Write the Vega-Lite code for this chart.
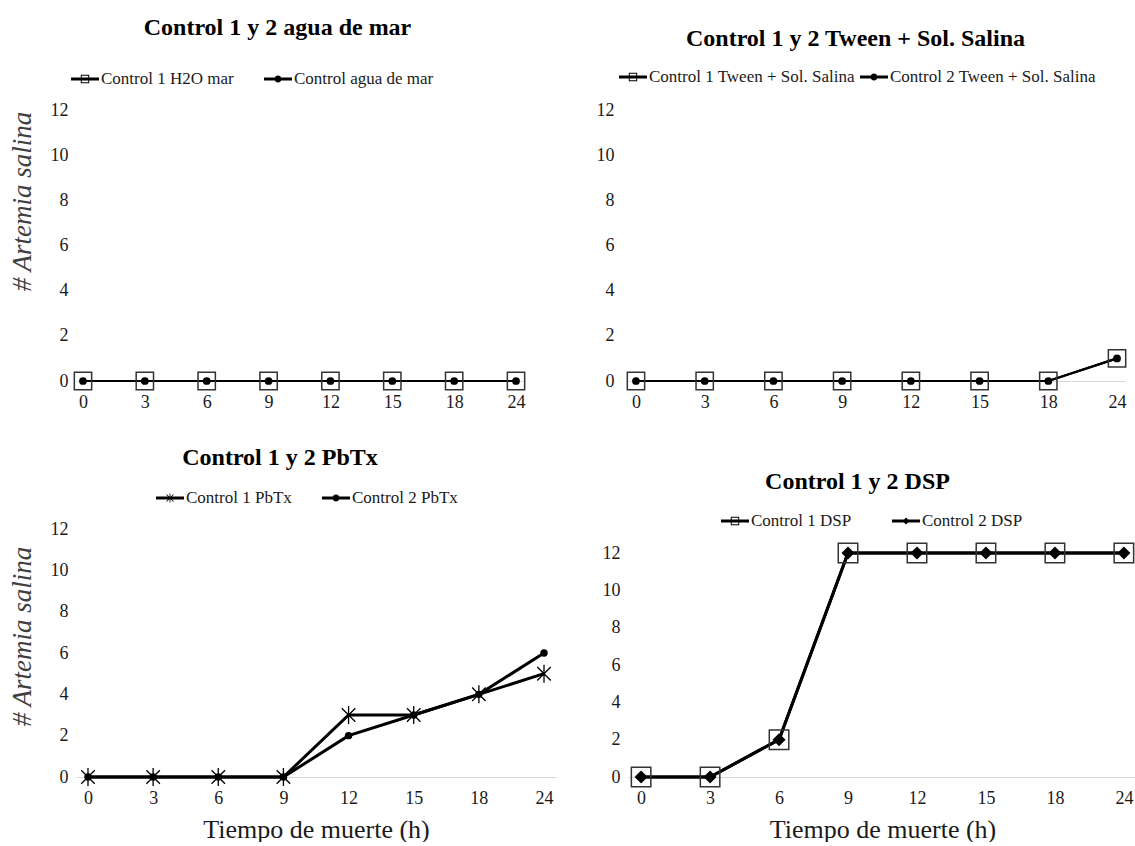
{
  "$schema": "https://vega.github.io/schema/vega-lite/v6.json",
  "background": "white",
  "padding": {"left": 8, "top": 16, "right": 0, "bottom": 0},
  "config": {
    "font": "Liberation Serif",
    "view": {"stroke": null},
    "title": {"fontSize": 24, "fontWeight": "bold", "color": "#000000", "font": "Liberation Serif", "anchor": "middle"},
    "axisX": {"labelAngle": 0, "ticks": false, "domainColor": "#d9d9d9", "domainWidth": 1.2, "grid": false, "labelFontSize": 18, "labelColor": "#1a1a1a", "labelPadding": 12, "titleFontSize": 26, "titleFontWeight": "normal", "titleColor": "#1a1a1a", "titlePadding": 9, "labelFont": "Liberation Serif", "titleFont": "Liberation Serif"},
    "axisY": {"domain": false, "ticks": false, "grid": false, "labelFontSize": 18, "labelColor": "#1a1a1a", "labelPadding": 8, "titleFontSize": 27, "titleFontStyle": "italic", "titleFontWeight": "normal", "titleColor": "#404040", "titlePadding": 14, "labelFont": "Liberation Serif", "titleFont": "Liberation Serif"},
    "legend": {"labelFont": "Liberation Serif", "labelFontSize": 17, "labelColor": "#1a1a1a", "labelLimit": 0}
  },
  "datasets": {
    "agua": [
      {"serie": "Control 1 H2O mar", "t": 0, "n": 0},
      {"serie": "Control 1 H2O mar", "t": 3, "n": 0},
      {"serie": "Control 1 H2O mar", "t": 6, "n": 0},
      {"serie": "Control 1 H2O mar", "t": 9, "n": 0},
      {"serie": "Control 1 H2O mar", "t": 12, "n": 0},
      {"serie": "Control 1 H2O mar", "t": 15, "n": 0},
      {"serie": "Control 1 H2O mar", "t": 18, "n": 0},
      {"serie": "Control 1 H2O mar", "t": 24, "n": 0},
      {"serie": "Control agua de mar", "t": 0, "n": 0},
      {"serie": "Control agua de mar", "t": 3, "n": 0},
      {"serie": "Control agua de mar", "t": 6, "n": 0},
      {"serie": "Control agua de mar", "t": 9, "n": 0},
      {"serie": "Control agua de mar", "t": 12, "n": 0},
      {"serie": "Control agua de mar", "t": 15, "n": 0},
      {"serie": "Control agua de mar", "t": 18, "n": 0},
      {"serie": "Control agua de mar", "t": 24, "n": 0}
    ],
    "tween": [
      {"serie": "Control 1 Tween + Sol. Salina", "t": 0, "n": 0},
      {"serie": "Control 1 Tween + Sol. Salina", "t": 3, "n": 0},
      {"serie": "Control 1 Tween + Sol. Salina", "t": 6, "n": 0},
      {"serie": "Control 1 Tween + Sol. Salina", "t": 9, "n": 0},
      {"serie": "Control 1 Tween + Sol. Salina", "t": 12, "n": 0},
      {"serie": "Control 1 Tween + Sol. Salina", "t": 15, "n": 0},
      {"serie": "Control 1 Tween + Sol. Salina", "t": 18, "n": 0},
      {"serie": "Control 1 Tween + Sol. Salina", "t": 24, "n": 1},
      {"serie": "Control 2 Tween + Sol. Salina", "t": 0, "n": 0},
      {"serie": "Control 2 Tween + Sol. Salina", "t": 3, "n": 0},
      {"serie": "Control 2 Tween + Sol. Salina", "t": 6, "n": 0},
      {"serie": "Control 2 Tween + Sol. Salina", "t": 9, "n": 0},
      {"serie": "Control 2 Tween + Sol. Salina", "t": 12, "n": 0},
      {"serie": "Control 2 Tween + Sol. Salina", "t": 15, "n": 0},
      {"serie": "Control 2 Tween + Sol. Salina", "t": 18, "n": 0},
      {"serie": "Control 2 Tween + Sol. Salina", "t": 24, "n": 1}
    ],
    "pbtx": [
      {"serie": "Control 1 PbTx", "t": 0, "n": 0},
      {"serie": "Control 1 PbTx", "t": 3, "n": 0},
      {"serie": "Control 1 PbTx", "t": 6, "n": 0},
      {"serie": "Control 1 PbTx", "t": 9, "n": 0},
      {"serie": "Control 1 PbTx", "t": 12, "n": 3},
      {"serie": "Control 1 PbTx", "t": 15, "n": 3},
      {"serie": "Control 1 PbTx", "t": 18, "n": 4},
      {"serie": "Control 1 PbTx", "t": 24, "n": 5},
      {"serie": "Control 2 PbTx", "t": 0, "n": 0},
      {"serie": "Control 2 PbTx", "t": 3, "n": 0},
      {"serie": "Control 2 PbTx", "t": 6, "n": 0},
      {"serie": "Control 2 PbTx", "t": 9, "n": 0},
      {"serie": "Control 2 PbTx", "t": 12, "n": 2},
      {"serie": "Control 2 PbTx", "t": 15, "n": 3},
      {"serie": "Control 2 PbTx", "t": 18, "n": 4},
      {"serie": "Control 2 PbTx", "t": 24, "n": 6}
    ],
    "dsp": [
      {"serie": "Control 1 DSP", "t": 0, "n": 0},
      {"serie": "Control 1 DSP", "t": 3, "n": 0},
      {"serie": "Control 1 DSP", "t": 6, "n": 2},
      {"serie": "Control 1 DSP", "t": 9, "n": 12},
      {"serie": "Control 1 DSP", "t": 12, "n": 12},
      {"serie": "Control 1 DSP", "t": 15, "n": 12},
      {"serie": "Control 1 DSP", "t": 18, "n": 12},
      {"serie": "Control 1 DSP", "t": 24, "n": 12},
      {"serie": "Control 2 DSP", "t": 0, "n": 0},
      {"serie": "Control 2 DSP", "t": 3, "n": 0},
      {"serie": "Control 2 DSP", "t": 6, "n": 2},
      {"serie": "Control 2 DSP", "t": 9, "n": 12},
      {"serie": "Control 2 DSP", "t": 12, "n": 12},
      {"serie": "Control 2 DSP", "t": 15, "n": 12},
      {"serie": "Control 2 DSP", "t": 18, "n": 12},
      {"serie": "Control 2 DSP", "t": 24, "n": 12}
    ]
  },
  "columns": 2,
  "bounds": "flush",
  "spacing": {"column": 72, "row": 148},
  "resolve": {"scale": {"shape": "independent"}, "legend": {"shape": "independent"}},
  "concat": [
    {
      "width": 447, "height": 271,
      "title": {"text": "Control 1 y 2 agua de mar", "offset": 25, "dx": -22},
      "data": {"name": "agua"},
      "encoding": {
        "x": {"field": "t", "type": "ordinal", "scale": {"type": "point", "padding": 0.113}, "axis": {"title": null}},
        "y": {"field": "n", "type": "quantitative", "scale": {"domain": [0, 12], "nice": false}, "axis": {"title": "# Artemia salina", "titleY": 91, "values": [0, 2, 4, 6, 8, 10, 12]}}
      },
      "layer": [
        {"mark": {"type": "line", "color": "black", "strokeWidth": 2.2}, "encoding": {"detail": {"field": "serie"}}},
        {"transform": [{"filter": "datum.serie === 'Control 1 H2O mar'"}], "mark": {"type": "point", "shape": "square", "size": 300, "filled": false, "stroke": "#333333", "strokeWidth": 1.5, "opacity": 1}},
        {"transform": [{"filter": "datum.serie === 'Control agua de mar'"}], "mark": {"type": "point", "shape": "circle", "size": 60, "filled": true, "color": "black", "opacity": 1}},
        {
          "transform": [{"filter": "false"}],
          "mark": {"type": "point", "filled": true, "color": "black", "strokeWidth": 0, "opacity": 1},
          "encoding": {
            "shape": {"field": "serie", "type": "nominal", "scale": {"domain": ["Control 1 H2O mar", "Control agua de mar"], "range": ["M-1,-0.1L1,-0.1L1,0.1L-1,0.1Z M-0.3,-0.3L0.3,-0.3L0.3,0.3L-0.3,0.3Z M-0.23,-0.23L-0.23,0.23L0.23,0.23L0.23,-0.23Z", "M-1,-0.1L1,-0.1L1,0.1L-1,0.1Z M-0.25,0A0.25,0.25 0 1 1 0.25,0A0.25,0.25 0 1 1 -0.25,0Z"]},
              "legend": {"title": null, "orient": "none", "legendX": -5, "legendY": -45, "direction": "horizontal", "symbolSize": 784, "columnPadding": 30, "labelOffset": 2, "symbolStrokeWidth": 0, "symbolFillColor": "black", "symbolOpacity": 1}}
          }
        }
      ]
    },
    {
      "width": 497, "height": 271,
      "title": {"text": "Control 1 y 2 Tween + Sol. Salina", "offset": 12, "dx": -21},
      "data": {"name": "tween"},
      "encoding": {
        "x": {"field": "t", "type": "ordinal", "scale": {"type": "point", "padding": 0.116}, "axis": {"title": null}},
        "y": {"field": "n", "type": "quantitative", "scale": {"domain": [0, 12], "nice": false}, "axis": {"title": null, "labelPadding": 14, "values": [0, 2, 4, 6, 8, 10, 12]}}
      },
      "layer": [
        {"mark": {"type": "line", "color": "black", "strokeWidth": 2.2}, "encoding": {"detail": {"field": "serie"}}},
        {"transform": [{"filter": "datum.serie === 'Control 1 Tween + Sol. Salina'"}], "mark": {"type": "point", "shape": "square", "size": 300, "filled": false, "stroke": "#333333", "strokeWidth": 1.5, "opacity": 1}},
        {"transform": [{"filter": "datum.serie === 'Control 2 Tween + Sol. Salina'"}], "mark": {"type": "point", "shape": "circle", "size": 60, "filled": true, "color": "black", "opacity": 1}},
        {
          "transform": [{"filter": "false"}],
          "mark": {"type": "point", "filled": true, "color": "black", "strokeWidth": 0, "opacity": 1},
          "encoding": {
            "shape": {"field": "serie", "type": "nominal", "scale": {"domain": ["Control 1 Tween + Sol. Salina", "Control 2 Tween + Sol. Salina"], "range": ["M-1,-0.1L1,-0.1L1,0.1L-1,0.1Z M-0.3,-0.3L0.3,-0.3L0.3,0.3L-0.3,0.3Z M-0.23,-0.23L-0.23,0.23L0.23,0.23L0.23,-0.23Z", "M-1,-0.1L1,-0.1L1,0.1L-1,0.1Z M-0.25,0A0.25,0.25 0 1 1 0.25,0A0.25,0.25 0 1 1 -0.25,0Z"]},
              "legend": {"title": null, "orient": "none", "legendX": -9, "legendY": -47, "direction": "horizontal", "symbolSize": 784, "columnPadding": 5, "labelOffset": 2, "symbolStrokeWidth": 0, "symbolFillColor": "black", "symbolOpacity": 1}}
          }
        }
      ]
    },
    {
      "width": 480, "height": 248,
      "title": {"text": "Control 1 y 2 PbTx", "offset": 14, "dx": -36},
      "data": {"name": "pbtx"},
      "encoding": {
        "x": {"field": "t", "type": "ordinal", "scale": {"type": "point", "padding": 0.184}, "axis": {"title": "Tiempo de muerte (h)"}},
        "y": {"field": "n", "type": "quantitative", "scale": {"domain": [0, 12], "nice": false}, "axis": {"title": "# Artemia salina", "titleY": 107, "values": [0, 2, 4, 6, 8, 10, 12]}}
      },
      "layer": [
        {"mark": {"type": "line", "color": "black", "strokeWidth": 3}, "encoding": {"detail": {"field": "serie"}}},
        {"transform": [{"filter": "datum.serie === 'Control 1 PbTx'"}], "mark": {"type": "point", "shape": "M-0.75,-0.75L0.75,0.75M-0.75,0.75L0.75,-0.75M0,-1L0,1", "size": 324, "filled": false, "stroke": "black", "strokeWidth": 1.3, "opacity": 1}},
        {"transform": [{"filter": "datum.serie === 'Control 2 PbTx'"}], "mark": {"type": "point", "shape": "circle", "size": 55, "filled": true, "color": "black", "opacity": 1}},
        {
          "transform": [{"filter": "false"}],
          "mark": {"type": "point", "filled": true, "color": "black", "strokeWidth": 0, "opacity": 1},
          "encoding": {
            "shape": {"field": "serie", "type": "nominal", "scale": {"domain": ["Control 1 PbTx", "Control 2 PbTx"], "range": ["M-1,-0.1L1,-0.1L1,0.1L-1,0.1Z M-0.03,-0.33L0.03,-0.33L0.03,0.33L-0.03,0.33Z M-0.229,-0.271L0.271,0.229L0.229,0.271L-0.271,-0.229Z M-0.271,0.229L0.229,-0.271L0.271,-0.229L-0.229,0.271Z", "M-1,-0.1L1,-0.1L1,0.1L-1,0.1Z M-0.25,0A0.25,0.25 0 1 1 0.25,0A0.25,0.25 0 1 1 -0.25,0Z"]},
              "legend": {"title": null, "orient": "none", "legendX": 80, "legendY": -45, "direction": "horizontal", "symbolSize": 784, "columnPadding": 30, "labelOffset": 2, "symbolStrokeWidth": 0, "symbolFillColor": "black", "symbolOpacity": 1}}
          }
        }
      ]
    },
    {
      "width": 509, "height": 248,
      "title": {"text": "Control 1 y 2 DSP", "offset": 13, "dx": -25},
      "data": {"name": "dsp"},
      "encoding": {
        "x": {"field": "t", "type": "ordinal", "scale": {"type": "point", "padding": 0.19}, "axis": {"title": "Tiempo de muerte (h)"}},
        "y": {"field": "n", "type": "quantitative", "scale": {"domain": [0, 13.29], "nice": false}, "axis": {"title": null, "values": [0, 2, 4, 6, 8, 10, 12]}}
      },
      "layer": [
        {"mark": {"type": "line", "color": "black", "strokeWidth": 3}, "encoding": {"detail": {"field": "serie"}}},
        {"transform": [{"filter": "datum.serie === 'Control 1 DSP'"}], "mark": {"type": "point", "shape": "square", "size": 380, "filled": false, "stroke": "#333333", "strokeWidth": 1.5, "opacity": 1}},
        {"transform": [{"filter": "datum.serie === 'Control 2 DSP'"}], "mark": {"type": "point", "shape": "diamond", "size": 170, "filled": true, "color": "black", "opacity": 1}},
        {
          "transform": [{"filter": "false"}],
          "mark": {"type": "point", "filled": true, "color": "black", "strokeWidth": 0, "opacity": 1},
          "encoding": {
            "shape": {"field": "serie", "type": "nominal", "scale": {"domain": ["Control 1 DSP", "Control 2 DSP"], "range": ["M-1,-0.1L1,-0.1L1,0.1L-1,0.1Z M-0.3,-0.3L0.3,-0.3L0.3,0.3L-0.3,0.3Z M-0.23,-0.23L-0.23,0.23L0.23,0.23L0.23,-0.23Z", "M-1,-0.1L1,-0.1L1,0.1L-1,0.1Z M0,-0.25L0.25,0L0,0.25L-0.25,0Z"]},
              "legend": {"title": null, "orient": "none", "legendX": 93, "legendY": -22, "direction": "horizontal", "symbolSize": 784, "columnPadding": 40, "labelOffset": 2, "symbolStrokeWidth": 0, "symbolFillColor": "black", "symbolOpacity": 1}}
          }
        }
      ]
    }
  ]
}
